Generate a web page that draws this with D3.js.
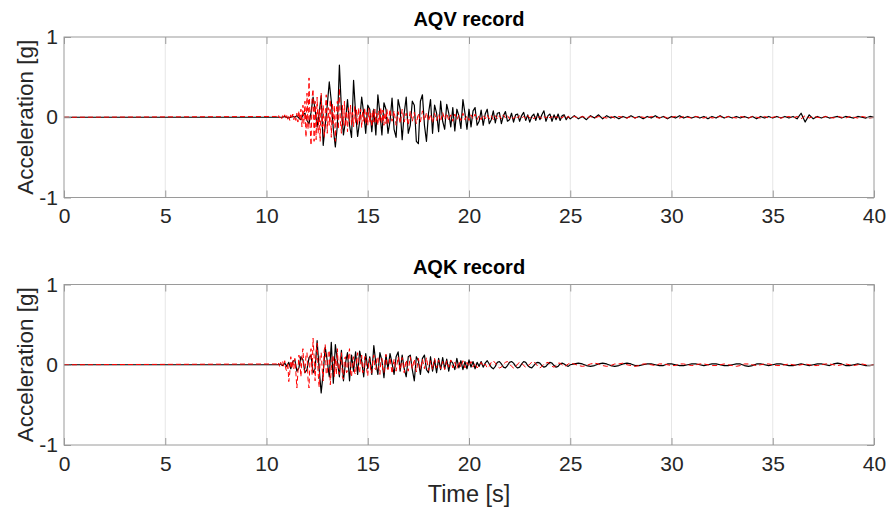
<!DOCTYPE html>
<html>
<head>
<meta charset="utf-8">
<script src="https://cdn.jsdelivr.net/npm/d3@7/dist/d3.min.js"></script>
<style>
  html, body { margin: 0; padding: 0; background: #fff; }
  svg { display: block; font-family: "Liberation Sans", Arial, Helvetica, sans-serif; }
</style>
</head>
<body>
<svg id="chart" width="890" height="513"></svg>
<script>
// Sampling of the stored records: quiet (zero) before 10.5 s.
// Black traces: 0.1 s samples 10.5–25 s. Red traces: 0.05 s samples 10.5–16 s,
// then 0.1 s samples 16–25 s. All traces: 0.2 s samples 25.2–40 s.
const onset = 10.5;
const blackFineStep = 0.1;
const redDenseStep = 0.05, redFineStart = 16.0, redFineStep = 0.1;
const coarseStart = 25.2, coarseStep = 0.2;

const xTicks = [0, 5, 10, 15, 20, 25, 30, 35, 40];
const yTicks = [-1, 0, 1];
const titles = ["AQV record", "AQK record"];

// AQV record, black trace [g]
const aqvBlackFine = [
  0,0,0,0,.01,0,-.01,0,.01,0,
  .02,-.01,-.03,.03,.05,-.04,-.08,.06,.25,.1,
  -.12,.05,.27,-.35,-.1,.15,.44,.2,-.15,-.37,
  -.1,.65,.1,-.22,-.05,.22,-.1,-.25,.46,.05,
  -.24,-.05,.25,.05,-.2,.15,.1,-.18,.1,-.22,
  .28,.05,-.22,.18,.1,-.2,-.05,.24,-.15,-.25,
  .22,.1,-.28,.05,.25,-.2,-.1,.2,.15,-.3,
  -.33,.2,.28,-.1,-.3,.05,.22,-.2,.15,.05,
  -.18,.2,-.05,-.15,.16,.05,-.12,.12,-.17,.1,
  .02,-.14,.22,.05,-.15,.1,-.12,.08,.12,-.1,
  -.05,.09,-.1,.04,.1,-.08,-.03,.08,-.07,.05,
  .06,-.08,.02,.07,-.05,-.03,.05,-.06,.03,.04,
  -.05,.02,.06,-.04,.03,-.06,.01,.04,-.04,.05,
  -.03,.03,.08,-.05,.02,.04,-.05,.03,-.03,.04,
  -.04,.02,.03,-.03,.01,-.02
];
const aqvBlackCoarse = [
  .02,-.02,.01,-.03,.02,-.01,.03,-.02,.02,-.01,
  .01,-.02,.01,-.01,.02,-.01,.01,-.02,.01,-.01,
  .02,-.01,.01,-.02,.01,-.01,.02,-.01,.01,-.01,
  .01,-.01,.01,-.02,.01,-.01,.02,-.01,.01,-.01,
  .01,-.01,.01,-.01,.01,-.02,.01,-.01,.01,-.01,
  .01,-.01,.01,-.01,.01,-.02,.05,-.06,.03,-.02,
  .01,-.01,.01,-.01,0,.01,-.01,.01,0,-.01,
  .01,0,-.01,.01,0
];

// AQV record, red dashed trace [g]
const aqvRedDense = [
  .01,-.01,.02,-.01,.01,-.02,.02,-.01,.03,-.02,.02,-.03,.01,-.04,.03,-.02,.04,-.03,.02,-.04,
  .05,-.06,.08,-.04,.1,-.12,.15,-.08,.2,-.25,.3,-.15,.49,-.1,-.35,.25,.35,-.3,.2,-.28,
  .25,-.2,.1,-.3,.3,-.12,.15,-.25,.05,.28,-.2,.12,-.1,.22,-.25,.18,-.08,.15,-.3,.1,
  .2,-.15,.36,-.05,-.2,.15,-.1,.2,-.12,.08,-.18,.12,-.05,.15,-.1,.06,-.12,.14,-.08,.1,
  -.1,.12,-.06,.1,-.13,.08,-.05,.12,-.09,.06,-.1,.11,-.07,.05,-.12,.09,-.06,.1,-.08,.05,
  -.1,.08,-.06,.12,-.07,.09,-.1,.06,-.08,.1
];
const aqvRedFine = [
  -.09,.1,-.05,.08,-.1,
  .07,-.08,.1,-.06,.05,-.1,.08,-.05,.06,-.08,
  .05,-.06,.08,-.04,.06,-.05,.04,-.07,.05,-.04,
  .04,-.05,.06,-.03,.05,-.04,.03,-.05,.04,-.03,
  .03,-.04,.05,-.03,.02,-.04,.03,-.02,.04,-.03,
  .02,-.03,.03,-.02,.03,-.02,.02,-.03,.02,-.02,
  .02,-.02,.03,-.01,.02,-.02,.01,-.02,.02,-.01,
  .02,-.01,.01,-.02,.02,-.01,.01,-.02,.01,-.01,
  .01,-.02,.01,-.01,.02,-.01,.01,-.02,.01,-.01,
  .01,-.01,.02,-.01,.01,-.01
];
const aqvRedCoarse = [
  .01,-.01,.01,-.01,.01,-.01,.01,0,-.01,.01,
  -.01,.01,0,-.01,.01,-.01,.01,0,-.01,.01,
  0,-.01,.01,-.01,0,.01,-.01,.01,0,-.01,
  .01,0,-.01,.01,-.01,0,.01,-.01,.01,0,
  -.01,.01,0,-.01,.01,0,-.01,.01,-.01,0,
  .01,-.01,0,.01,-.01,.01,-.02,.02,-.01,.01,
  0,-.01,.01,0,-.01,.01,0,-.01,.01,0,
  -.01,.01,0,-.01,0
];

// AQK record, black trace [g]
const aqkBlackFine = [
  0,0,.01,-.01,.02,-.02,.03,-.05,.04,.06,
  -.08,-.04,.1,.06,-.1,-.06,.09,.12,-.1,-.05,
  .3,-.05,-.35,-.1,.22,.05,-.15,.28,-.23,.25,
  .05,-.15,.18,-.2,.02,.15,-.2,.12,-.08,.16,
  -.12,.17,.05,-.15,.14,-.05,.1,-.12,.24,.02,
  -.12,.15,.05,-.16,.12,-.05,.14,.02,-.12,.1,
  .16,-.08,.12,-.05,-.15,.1,.12,-.06,-.2,.1,
  .05,-.12,.08,.12,-.06,-.1,.1,-.08,.06,-.1,
  .08,-.06,.09,-.05,.07,-.08,.05,.02,-.06,.08,
  -.04,.05,-.06,.04,-.05,.06,-.03,.04,-.05,.03,
  -.02,.04,-.03,.02,.05,.01,-.03,-.05,-.02,.03,
  .04,.01,-.03,-.04,-.01,.03,.04,.02,-.02,-.04,
  -.03,.01,.04,.03,-.01,-.03,-.04,-.01,.02,.03,
  .02,-.01,-.03,-.02,.01,.03,.02,-.01,-.03,-.02,
  .01,.02,.01,-.01,-.02,0
];
const aqkBlackCoarse = [
  .01,.02,.01,-.01,-.02,-.01,.01,.02,.01,-.01,
  -.02,-.01,.01,.02,.01,-.01,-.01,0,.01,.01,
  0,-.01,-.01,.01,.01,0,-.01,-.01,0,.01,
  .01,0,-.01,0,.01,.01,0,-.01,-.01,0,
  .01,.01,-.01,-.02,-.01,.01,.01,0,-.01,0,
  .01,.01,0,-.01,-.01,0,.01,0,-.01,0,
  .01,.01,0,-.01,.01,.02,.01,-.01,-.01,0,
  .01,0,-.01,-.01,0
];

// AQK record, red dashed trace [g]
const aqkRedDense = [
  .01,-.01,.02,-.02,.03,-.01,.04,-.02,.05,-.05,-.08,.03,-.21,-.1,.1,-.05,.06,-.05,.08,-.1,
  -.29,-.1,.12,.05,-.15,.1,.2,-.05,-.1,.12,.15,-.18,-.29,.1,.2,-.12,.33,.1,-.2,.15,
  .27,-.1,-.28,.12,.15,-.05,-.2,.18,.25,-.12,-.1,.15,.18,-.25,-.05,.12,.1,-.15,.08,-.12,
  .2,-.05,-.12,.1,.15,-.15,-.18,.08,.1,-.1,-.08,.12,.2,-.1,-.15,.05,.1,-.1,-.12,.08,
  .15,-.05,-.1,.08,.12,-.1,-.08,.1,.1,-.06,-.14,.05,.08,-.1,-.1,.06,.12,-.05,-.06,.08,
  .1,-.05,-.12,.06,.08,-.08,-.1,.05,.13,-.04
];
const aqkRedFine = [
  -.06,.09,-.11,.07,-.08,
  .1,-.07,.09,-.1,.06,-.08,.1,-.05,.07,-.09,
  .08,-.06,.07,-.05,.09,-.07,.05,-.06,.08,-.04,
  .06,-.05,.04,-.06,.05,-.03,.06,-.04,.03,-.05,
  .04,-.03,.05,-.04,.03,-.02,.04,-.03,.02,-.04,
  -.01,.03,-.02,.01,-.04,-.02,.03,.05,.02,-.02,
  -.04,-.03,.01,.03,.04,.01,-.02,-.04,-.03,.01,
  .03,.02,-.01,-.03,-.02,.01,.03,.04,.01,-.02,
  -.04,-.02,.01,.02,.03,.01,-.02,-.03,-.01,.02,
  .02,0,-.02,-.01,.01,.02
];
const aqkRedCoarse = [
  .01,-.01,-.02,-.01,.01,.02,.01,-.01,-.02,-.01,
  .01,.01,.02,0,-.01,-.02,-.01,.01,.01,0,
  -.01,.01,.01,0,-.01,-.01,.01,.01,0,-.01,
  0,.01,.01,0,-.01,-.01,0,.01,0,-.01,
  -.02,-.01,.01,.01,0,-.01,0,.01,.01,0,
  -.01,-.01,0,.01,0,-.01,0,.01,0,-.01,
  -.01,0,.01,.01,0,-.01,0,.01,0,-.01,
  0,.01,0,-.01,0
];

// Build (time, acceleration) samples from consecutive uniformly sampled segments.
function samples(segments) {
  const pts = [{ t: 0, a: 0 }];
  segments.forEach(([start, step, vals]) =>
    vals.forEach((a, i) => pts.push({ t: start + i * step, a })));
  return pts;
}

const panels = [
  {
    title: titles[0], top: 37,
    black: samples([[onset, blackFineStep, aqvBlackFine], [coarseStart, coarseStep, aqvBlackCoarse]]),
    red: samples([[onset, redDenseStep, aqvRedDense], [redFineStart, redFineStep, aqvRedFine], [coarseStart, coarseStep, aqvRedCoarse]])
  },
  {
    title: titles[1], top: 284.5,
    black: samples([[onset, blackFineStep, aqkBlackFine], [coarseStart, coarseStep, aqkBlackCoarse]]),
    red: samples([[onset, redDenseStep, aqkRedDense], [redFineStart, redFineStep, aqkRedFine], [coarseStart, coarseStep, aqkRedCoarse]])
  }
];

const svg = d3.select("#chart");
const left = 64, right = 874, plotH = 160.5;
const axisColor = "#262626", boxColor = "#9a9a9a", gridColor = "#e6e6e6";
const tickFont = 21;

const x = d3.scaleLinear().domain([0, 40]).range([left, right]);
const fmt = d => String(d);

panels.forEach((p, k) => {
  const y = d3.scaleLinear().domain([-1, 1]).range([p.top + plotH, p.top]);
  const g = svg.append("g");

  // grid
  g.append("g").selectAll("line").data(xTicks.slice(1, -1)).join("line")
    .attr("x1", d => x(d)).attr("x2", d => x(d))
    .attr("y1", p.top).attr("y2", p.top + plotH)
    .attr("stroke", gridColor).attr("stroke-width", 1);
  g.append("line")
    .attr("x1", left).attr("x2", right).attr("y1", y(0)).attr("y2", y(0))
    .attr("stroke", gridColor).attr("stroke-width", 1);

  // traces
  const line = d3.line().x(d => x(d.t)).y(d => y(d.a));
  const clipId = "clip" + k;
  svg.append("clipPath").attr("id", clipId).append("rect")
    .attr("x", left).attr("y", p.top).attr("width", right - left).attr("height", plotH);
  const traces = g.append("g").attr("clip-path", `url(#${clipId})`);
  traces.append("path").datum(p.black).attr("d", line)
    .attr("fill", "none").attr("stroke", "#000").attr("stroke-width", 1.2)
    .attr("stroke-linejoin", "round");
  traces.append("path").datum(p.red).attr("d", line)
    .attr("fill", "none").attr("stroke", "#ff0000").attr("stroke-width", 1)
    .attr("stroke-dasharray", "5,3").attr("stroke-linejoin", "round");

  // axes with inward ticks on all four sides
  const xb = d3.axisBottom(x).tickValues(xTicks).tickFormat(fmt).tickSizeInner(-7).tickSizeOuter(0).tickPadding(11);
  const xt = d3.axisTop(x).tickValues(xTicks).tickSizeInner(-7).tickSizeOuter(0).tickFormat("");
  const yl = d3.axisLeft(y).tickValues(yTicks).tickFormat(fmt).tickSizeInner(-7).tickSizeOuter(0).tickPadding(6);
  const yr = d3.axisRight(y).tickValues(yTicks).tickSizeInner(-7).tickSizeOuter(0).tickFormat("");

  const ax = [
    g.append("g").attr("transform", `translate(0,${p.top + plotH})`).call(xb),
    g.append("g").attr("transform", `translate(0,${p.top})`).call(xt),
    g.append("g").attr("transform", `translate(${left},0)`).call(yl),
    g.append("g").attr("transform", `translate(${right},0)`).call(yr)
  ];
  ax.forEach(a => {
    a.select(".domain").remove();
    a.selectAll(".tick line").attr("stroke", boxColor);
    a.selectAll(".tick text").attr("fill", axisColor).style("font-size", tickFont + "px")
      .style("font-family", "'Liberation Sans', Arial, sans-serif");
  });

  // box
  g.append("rect").attr("x", left).attr("y", p.top).attr("width", right - left).attr("height", plotH)
    .attr("fill", "none").attr("stroke", boxColor).attr("stroke-width", 1);

  // title
  g.append("text").attr("x", (left + right) / 2).attr("y", p.top - 11)
    .attr("text-anchor", "middle").attr("fill", "#000")
    .style("font-weight", "bold").style("font-size", "20px")
    .text(p.title);

  // y label
  g.append("text")
    .attr("transform", `translate(33,${p.top + plotH / 2}) rotate(-90)`)
    .attr("text-anchor", "middle").attr("fill", axisColor)
    .style("font-size", "22.5px")
    .text("Acceleration [g]");
});

// x label
svg.append("text").attr("x", (left + right) / 2).attr("y", 502)
  .attr("text-anchor", "middle").attr("fill", axisColor)
  .style("font-size", "23.5px")
  .text("Time [s]");
</script>
</body>
</html>
